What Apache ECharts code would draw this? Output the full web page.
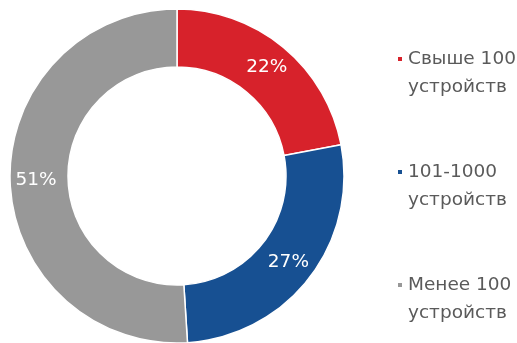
<!DOCTYPE html>
<html>
<head>
<meta charset="utf-8">
<style>
  html, body { margin: 0; padding: 0; background: #ffffff; }
  #chart { width: 517px; height: 343px; }
</style>
<script src="https://cdn.jsdelivr.net/npm/echarts@6/dist/echarts.min.js"></script>
</head>
<body>
<div id="chart"></div>
<script>
// Share of companies by fleet size (percent)
const categories = ['Свыше 1000\nустройств', '101-1000\nустройств', 'Менее 100\nустройств'];
const shares = [22, 27, 51];
const colors = ['#D7222B', '#175092', '#989898'];

const chart = echarts.init(document.getElementById('chart'), null, { renderer: 'canvas' });

chart.setOption({
  backgroundColor: '#ffffff',
  animation: false,
  color: colors,
  legend: {
    orient: 'vertical',
    left: 396,
    top: 17,
    padding: 0,
    itemGap: 29,
    itemWidth: 6,
    itemHeight: 6,
    itemTextGap: 8,
    icon: 'rect',
    data: categories,
    // a blank leading line keeps the marker level with the first text line
    formatter: name => '\n' + name,
    textStyle: {
      fontFamily: 'DejaVu Sans',
      fontSize: 18.5,
      lineHeight: 28,
      color: '#5a5a5a'
    }
  },
  series: [{
    type: 'pie',
    center: [177, 176],
    radius: [109, 167],
    startAngle: 90,
    clockwise: true,
    avoidLabelOverlap: false,
    itemStyle: { borderColor: '#ffffff', borderWidth: 1.5 },
    label: {
      show: true,
      position: 'inside',
      formatter: '{c}%',
      color: '#ffffff',
      fontFamily: 'DejaVu Sans',
      fontSize: 18.5
    },
    labelLine: { show: false },
    emphasis: { disabled: true },
    data: categories.map((name, i) => ({ name: name, value: shares[i] }))
  }]
});
</script>
</body>
</html>
